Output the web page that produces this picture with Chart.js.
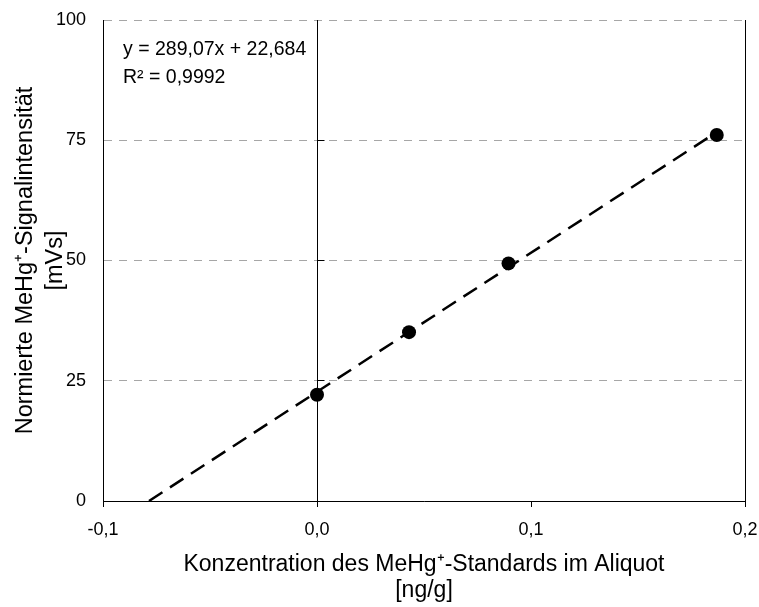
<!DOCTYPE html>
<html>
<head>
<meta charset="utf-8">
<script src="https://cdn.jsdelivr.net/npm/chart.js@4/dist/chart.umd.min.js"></script>
<style>
  html, body { margin: 0; padding: 0; background: #fff; }
  #wrap { width: 759px; height: 607px; position: relative; }
</style>
</head>
<body>
<div id="wrap"><canvas id="c"></canvas></div>
<script>
// ---- data ----
const concentrations = [0.0, 0.043, 0.0895, 0.1868];      // ng/g
const intensities    = [22.1, 35.1, 49.4, 76.1];           // mVs
const trendX = [-0.0785, 0.1868];
const trendY = [0, 76.7];
const zeroAxisX = [0, 0];
const zeroAxisY = [0, 100];
const xTickLabels = ['-0,1', '0,0', '0,1', '0,2'];
const yTickLabels = ['0', '25', '50', '75', '100'];
const equationText = 'y = 289,07x + 22,684';
const r2Text = 'R\u00B2 = 0,9992';
const xTitle = ['Konzentration des MeHg\u207A-Standards im Aliquot', '[ng/g]'];
const yTitle = ['Normierte MeHg\u207A-Signalintensit\u00E4t', '[mVs]'];

const FONT = '"Liberation Sans", Arial, sans-serif';

const pointsData = concentrations.map((x, i) => ({ x, y: intensities[i] }));
const trendData = trendX.map((x, i) => ({ x, y: trendY[i] }));

const crisp = v => Math.round(v - 0.5) + 0.5;

const extras = {
  id: 'extras',
  beforeDatasetsDraw(chart) {
    const { ctx, chartArea, scales } = chart;
    const xs = scales.x, ys = scales.y;
    ctx.save();
    ctx.strokeStyle = '#000';
    ctx.lineWidth = 1;
    // right frame line
    ctx.beginPath();
    ctx.moveTo(crisp(chartArea.right), chartArea.top);
    ctx.lineTo(crisp(chartArea.right), chartArea.bottom);
    ctx.stroke();
    // vertical axis line at x = 0
    const x0 = crisp(xs.getPixelForValue(zeroAxisX[0]));
    ctx.beginPath();
    ctx.moveTo(x0, ys.getPixelForValue(zeroAxisY[0]));
    ctx.lineTo(x0, ys.getPixelForValue(zeroAxisY[1]));
    ctx.stroke();
    // tick marks on the x=0 axis, pointing right
    ys.ticks.forEach(t => {
      if (t.value <= 0 || t.value >= 100) return;
      const py = crisp(ys.getPixelForValue(t.value));
      ctx.beginPath();
      ctx.moveTo(x0, py);
      ctx.lineTo(x0 + 7, py);
      ctx.stroke();
    });
    ctx.restore();
  },
  afterDatasetsDraw(chart) {
    const { ctx, chartArea } = chart;
    ctx.save();
    ctx.fillStyle = '#000';
    ctx.font = '19.5px ' + FONT;
    ctx.textBaseline = 'alphabetic';
    ctx.textAlign = 'left';
    ctx.fillText(equationText, chartArea.left + 20, chartArea.top + 35);
    ctx.fillText(r2Text, chartArea.left + 20, chartArea.top + 63);
    ctx.restore();
  }
};

new Chart(document.getElementById('c'), {
  type: 'scatter',
  data: {
    datasets: [
      {
        label: 'trend',
        data: trendData,
        showLine: true,
        borderColor: '#000',
        borderWidth: 2.5,
        borderDash: [16, 9],
        pointRadius: 0,
        order: 2
      },
      {
        label: 'standards',
        data: pointsData,
        showLine: false,
        pointRadius: 7,
        pointBackgroundColor: '#000',
        pointBorderColor: '#000',
        pointBorderWidth: 0,
        order: 1
      }
    ]
  },
  options: {
    responsive: true,
    maintainAspectRatio: false,
    animation: false,
    devicePixelRatio: 1,
    layout: { padding: { top: 20, right: 14, left: 0, bottom: 0 } },
    plugins: { legend: { display: false }, tooltip: { enabled: false } },
    scales: {
      x: {
        type: 'linear',
        min: -0.1,
        max: 0.2,
        afterBuildTicks(scale) {
          scale.ticks = [-0.1, 0, 0.1, 0.2].map(v => ({ value: v }));
        },
        ticks: {
          color: '#000',
          font: { family: FONT, size: 18 },
          padding: 12,
          maxRotation: 0,
          callback: (v, i) => xTickLabels[i]
        },
        grid: {
          drawOnChartArea: false,
          drawTicks: true,
          tickLength: 6,
          color: '#000',
          lineWidth: 1
        },
        border: { display: true, color: '#000', width: 1 },
        title: {
          display: true,
          text: xTitle,
          color: '#000',
          font: { family: FONT, size: 23, lineHeight: 1.13 },
          padding: { top: 0, bottom: 3 }
        },
        afterFit(scale) {
          scale.height = 106;
          scale.paddingLeft = 0;
          scale.paddingRight = 0;
        }
      },
      y: {
        type: 'linear',
        min: 0,
        max: 100,
        afterBuildTicks(scale) {
          scale.ticks = [0, 25, 50, 75, 100].map(v => ({ value: v }));
        },
        ticks: {
          color: '#000',
          font: { family: FONT, size: 18 },
          padding: 17,
          callback: (v, i) => yTickLabels[i]
        },
        grid: {
          drawTicks: false,
          color: '#a6a6a6',
          lineWidth: 1
        },
        border: { display: true, color: '#000', width: 1, dash: [8, 7] },
        title: {
          display: true,
          text: yTitle,
          color: '#000',
          font: { family: FONT, size: 23.5, lineHeight: 1.28 },
          padding: { top: 10, bottom: 0 }
        },
        afterFit(scale) {
          scale.width = 103;
          scale.paddingTop = 0;
          scale.paddingBottom = 0;
        }
      }
    }
  },
  plugins: [extras]
});
</script>
</body>
</html>
